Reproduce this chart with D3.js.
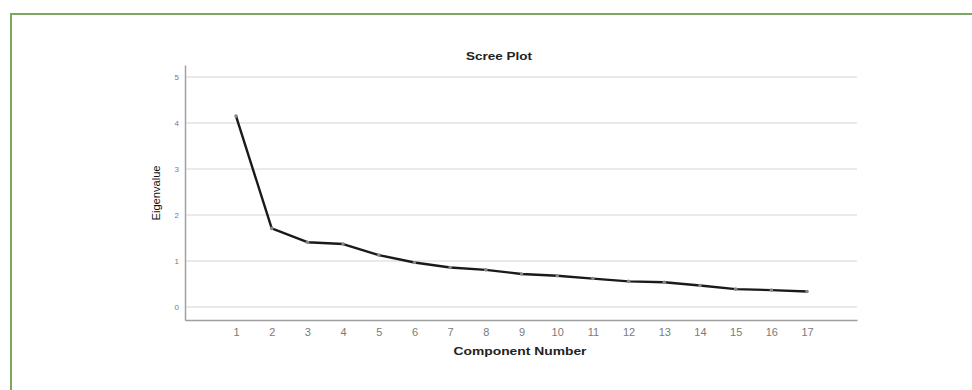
<!DOCTYPE html>
<html>
<head>
<meta charset="utf-8">
<script src="https://cdn.jsdelivr.net/npm/d3@7"></script>
<style>
  body { margin: 0; background: #fff; }
  svg { display: block; font-family: "Liberation Sans", Arial, sans-serif; }
  .grid line { stroke: #e3e3e3; stroke-width: 1.5; }
  .axis path, .axis line { stroke: #a0a0a0; }
  .axis text { fill: #7a7a7a; }
</style>
</head>
<body>
<svg id="chart" width="972" height="390"></svg>
<script>
// data
var components = [1, 2, 3, 4, 5, 6, 7, 8, 9, 10, 11, 12, 13, 14, 15, 16, 17];
var eigenvalues = [4.15, 1.71, 1.41, 1.37, 1.13, 0.97, 0.86, 0.81, 0.72, 0.68, 0.62, 0.56, 0.54, 0.47, 0.39, 0.37, 0.34];
var yTicks = [0, 1, 2, 3, 4, 5];

var svg = d3.select("#chart");

// green frame (top + left only visible)
svg.append("path")
    .attr("d", "M11,390 L11,14 L972,14")
    .attr("fill", "none")
    .attr("stroke", "#7aa65e")
    .attr("stroke-width", 2);

// Set the ranges
var x = d3.scaleLinear()
    .domain([-0.43, 18.4])
    .range([185, 857]);

var y = d3.scaleLinear()
    .domain([-0.28, 5.26])
    .range([320, 65]);

// gridlines
svg.append("g")
    .attr("class", "grid")
    .selectAll("line")
    .data(yTicks)
    .enter().append("line")
    .attr("x1", x.range()[0])
    .attr("x2", x.range()[1])
    .attr("y1", function(d) { return y(d); })
    .attr("y2", function(d) { return y(d); });

// axes
var xAxis = d3.axisBottom(x)
    .tickValues(components)
    .tickFormat(d3.format("d"))
    .tickSize(0)
    .tickPadding(8);

var yAxis = d3.axisLeft(y)
    .tickValues(yTicks)
    .tickFormat(d3.format("d"))
    .tickSize(0)
    .tickPadding(6);

var gx = svg.append("g")
    .attr("class", "axis")
    .attr("transform", "translate(0," + y.range()[0] + ")")
    .call(xAxis);
gx.select(".domain").attr("stroke-width", 1.5);
gx.selectAll("text").style("font-size", "11px");

var gy = svg.append("g")
    .attr("class", "axis")
    .attr("transform", "translate(" + x.range()[0] + ",0)")
    .call(yAxis);
gy.select(".domain").attr("stroke-width", 1.5);
gy.selectAll("text").style("font-size", "8px");

// the line
var line = d3.line()
    .x(function(d, i) { return x(components[i]); })
    .y(function(d) { return y(d); });

svg.append("path")
    .datum(eigenvalues)
    .attr("fill", "none")
    .attr("stroke", "#1a1a1a")
    .attr("stroke-width", 2.4)
    .attr("stroke-linejoin", "round")
    .attr("d", line);

svg.selectAll(".pt")
    .data(eigenvalues)
    .enter().append("circle")
    .attr("class", "pt")
    .attr("cx", function(d, i) { return x(components[i]); })
    .attr("cy", function(d) { return y(d); })
    .attr("r", 1.8)
    .attr("fill", "#888");

// titles
svg.append("text")
    .attr("x", 499)
    .attr("y", 60)
    .attr("text-anchor", "middle")
    .attr("textLength", 66)
    .attr("lengthAdjust", "spacingAndGlyphs")
    .style("font-size", "10.5px")
    .style("font-weight", "bold")
    .style("fill", "#222")
    .text("Scree Plot");

svg.append("text")
    .attr("x", 520)
    .attr("y", 355)
    .attr("text-anchor", "middle")
    .attr("textLength", 133)
    .attr("lengthAdjust", "spacingAndGlyphs")
    .style("font-size", "11px")
    .style("font-weight", "bold")
    .style("fill", "#222")
    .text("Component Number");

svg.append("text")
    .attr("transform", "translate(160,193) rotate(-90)")
    .attr("text-anchor", "middle")
    .attr("textLength", 55)
    .attr("lengthAdjust", "spacingAndGlyphs")
    .style("font-size", "11.5px")
    .style("fill", "#111")
    .text("Eigenvalue");
</script>
</body>
</html>
